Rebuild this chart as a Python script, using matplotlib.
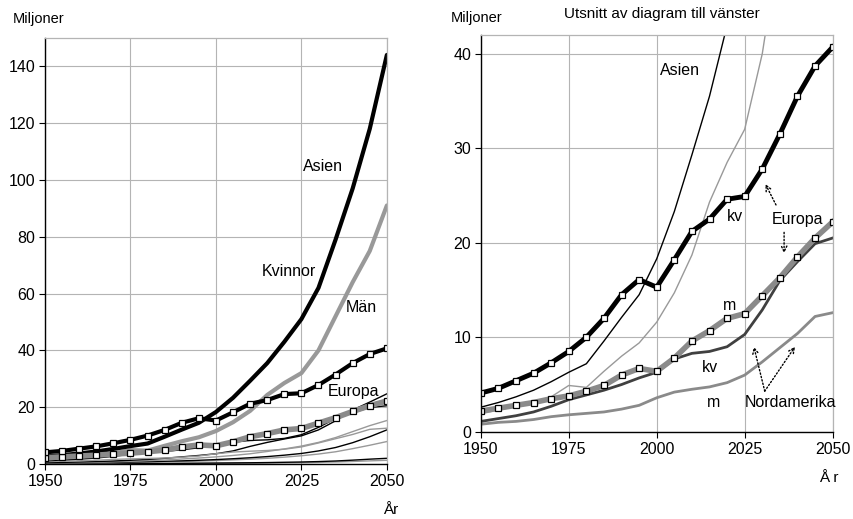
import matplotlib
matplotlib.use("Agg")
import matplotlib.pyplot as plt

plt.rcParams['font.family'] = ['Liberation Sans', 'DejaVu Sans']

years = list(range(1950, 2051, 5))

asia_kv = [2.6, 3.1, 3.7, 4.4, 5.3, 6.3, 7.2, 9.6, 12.1, 14.5, 18.3, 23.3, 29.3, 35.5, 43.0, 51.0, 62.0, 79.0, 97.0, 118.0, 144.0]
asia_m = [1.9, 2.3, 2.7, 3.1, 3.7, 4.9, 4.7, 6.4, 8.0, 9.4, 11.6, 14.7, 18.7, 24.3, 28.5, 32.0, 40.0, 52.0, 64.0, 75.0, 91.0]
europa_kv = [4.1, 4.6, 5.4, 6.2, 7.3, 8.5, 10.0, 12.0, 14.5, 16.1, 15.3, 18.2, 21.2, 22.5, 24.6, 24.9, 27.8, 31.5, 35.5, 38.7, 40.7]
europa_m = [2.2, 2.5, 2.8, 3.1, 3.5, 3.8, 4.3, 4.9, 6.0, 6.7, 6.4, 7.8, 9.6, 10.7, 12.0, 12.5, 14.4, 16.3, 18.5, 20.5, 22.2]
nordam_kv = [1.1, 1.4, 1.7, 2.1, 2.7, 3.4, 3.9, 4.4, 5.0, 5.7, 6.3, 7.7, 8.3, 8.5, 9.0, 10.3, 12.9, 16.0, 18.0, 19.9, 20.5]
nordam_m = [0.8, 1.0, 1.1, 1.3, 1.6, 1.8, 1.95, 2.1, 2.4, 2.8, 3.6, 4.2, 4.5, 4.75, 5.2, 6.0, 7.4, 8.9, 10.4, 12.2, 12.6]
latam_kv = [0.45, 0.55, 0.7, 0.85, 1.05, 1.3, 1.6, 2.0, 2.5, 3.0, 3.6, 4.6, 6.2, 7.6, 8.8, 9.9, 12.0, 15.2, 19.0, 21.8, 24.7]
latam_m = [0.35, 0.42, 0.5, 0.6, 0.75, 0.95, 1.15, 1.4, 1.75, 2.1, 2.5, 3.0, 3.6, 4.4, 5.3, 6.3, 7.6, 9.3, 11.4, 13.5, 15.3]
afrika_kv = [0.35, 0.4, 0.45, 0.5, 0.6, 0.7, 0.8, 0.95, 1.1, 1.3, 1.55, 1.85, 2.2, 2.6, 3.1, 3.7, 4.6, 5.8, 7.5, 9.6, 12.0]
afrika_m = [0.28, 0.3, 0.35, 0.4, 0.45, 0.55, 0.62, 0.72, 0.85, 1.0, 1.2, 1.45, 1.7, 2.0, 2.4, 2.9, 3.5, 4.3, 5.4, 6.6, 7.9]
oceanien_kv = [0.07, 0.08, 0.09, 0.1, 0.12, 0.14, 0.17, 0.2, 0.24, 0.28, 0.33, 0.38, 0.43, 0.5, 0.6, 0.7, 0.85, 1.05, 1.35, 1.7, 2.0]
oceanien_m = [0.05, 0.05, 0.06, 0.07, 0.08, 0.09, 0.11, 0.13, 0.15, 0.18, 0.21, 0.24, 0.28, 0.33, 0.39, 0.46, 0.56, 0.7, 0.88, 1.1, 1.3]

xticks = [1950, 1975, 2000, 2025, 2050]
left_yticks = [0, 20, 40, 60, 80, 100, 120, 140]
right_yticks = [0, 10, 20, 30, 40]

BLACK = '#000000'
GRAY = '#999999'
MGRAY = '#8a8a8a'
DGRAY = '#404040'
GRID = '#b4b4b4'

TICK_FS = 11.5
ANN_FS = 11.5

fig = plt.figure(figsize=(8.54, 5.19), dpi=100)
axL = fig.add_axes([0.0527, 0.106, 0.4003, 0.821])
axR = fig.add_axes([0.563, 0.168, 0.412, 0.765])


def style(ax, ylim, yticks):
    ax.set_xlim(1950, 2050)
    ax.set_ylim(*ylim)
    ax.set_xticks(xticks)
    ax.set_yticks(yticks)
    ax.grid(True, color=GRID, lw=0.8)
    ax.set_axisbelow(True)
    for s in ['top', 'right']:
        ax.spines[s].set_color(GRID)
        ax.spines[s].set_linewidth(0.9)
    for s in ['left', 'bottom']:
        ax.spines[s].set_color('black')
        ax.spines[s].set_linewidth(1.0)
    ax.tick_params(axis='both', direction='out', length=4, width=0.8,
                   labelsize=TICK_FS, colors='black', pad=3)


mk = dict(marker='s', markersize=4.5, markerfacecolor='white',
          markeredgecolor='black', markeredgewidth=0.9)

# ---------- Left chart ----------
style(axL, (0, 150), left_yticks)
axL.plot(years, oceanien_m, color=GRAY, lw=1.0)
axL.plot(years, oceanien_kv, color=BLACK, lw=1.0)
axL.plot(years, afrika_m, color=GRAY, lw=1.0)
axL.plot(years, afrika_kv, color=BLACK, lw=1.0)
axL.plot(years, latam_m, color=GRAY, lw=1.0)
axL.plot(years, latam_kv, color=BLACK, lw=1.0)
axL.plot(years, nordam_m, color=GRAY, lw=1.0)
axL.plot(years, nordam_kv, color=BLACK, lw=1.0)
axL.plot(years, asia_m, color=GRAY, lw=3.0, solid_capstyle='round')
axL.plot(years, asia_kv, color=BLACK, lw=3.0, solid_capstyle='round')
axL.plot(years, europa_m, color=MGRAY, lw=4.0, **mk)
axL.plot(years, europa_kv, color=BLACK, lw=3.0, **mk)

axL.text(2025.4, 104.7, 'Asien', fontsize=ANN_FS, ha='left', va='center')
axL.text(2013.3, 67.7, 'Kvinnor', fontsize=ANN_FS, ha='left', va='center')
axL.text(2038.0, 55.0, 'Män', fontsize=ANN_FS, ha='left', va='center')
axL.text(2032.6, 25.5, 'Europa', fontsize=ANN_FS, ha='left', va='center')

fig.text(13 / 854, 1 - 19 / 519, 'Miljoner', fontsize=10.5, ha='left', va='center')
fig.text(391 / 854, 1 - 510 / 519, 'År', fontsize=11, ha='center', va='center')

# ---------- Right chart ----------
style(axR, (0, 42), right_yticks)
axR.plot(years, asia_m, color=GRAY, lw=1.0)
axR.plot(years, asia_kv, color=BLACK, lw=1.0)
axR.plot(years, nordam_m, color=MGRAY, lw=2.0)
axR.plot(years, nordam_kv, color=DGRAY, lw=2.0)
axR.plot(years, europa_m, color=MGRAY, lw=4.0, **mk)
axR.plot(years, europa_kv, color=BLACK, lw=3.5, **mk)

axR.text(2001.0, 38.2, 'Asien', fontsize=ANN_FS, ha='left', va='center')
axR.text(2020.0, 22.8, 'kv', fontsize=ANN_FS, ha='left', va='center')
axR.text(2032.6, 22.5, 'Europa', fontsize=ANN_FS, ha='left', va='center')
axR.text(2018.7, 13.4, 'm', fontsize=ANN_FS, ha='left', va='center')
axR.text(2012.7, 6.8, 'kv', fontsize=ANN_FS, ha='left', va='center')
axR.text(2014.2, 3.1, 'm', fontsize=ANN_FS, ha='left', va='center')
axR.text(2025.0, 3.1, 'Nordamerika', fontsize=ANN_FS, ha='left', va='center')

arr = dict(arrowstyle='->', linestyle=(0, (1, 1.5)), lw=1.0, color='black',
           shrinkA=0, shrinkB=0)
axR.annotate('', xy=(2030.9, 26.2), xytext=(2033.9, 24.0), arrowprops=arr)
axR.annotate('', xy=(2036.2, 18.9), xytext=(2036.2, 21.1), arrowprops=arr)
axR.annotate('', xy=(2027.6, 9.0), xytext=(2030.7, 4.3), arrowprops=arr)
axR.annotate('', xy=(2039.3, 9.0), xytext=(2030.7, 4.3), arrowprops=arr)

fig.text(451 / 854, 1 - 18 / 519, 'Miljoner', fontsize=10.5, ha='left', va='center')
fig.text(662 / 854, 1 - 14 / 519, 'Utsnitt av diagram till vänster', fontsize=11,
         ha='center', va='center')
fig.text(829 / 854, 1 - 478 / 519, 'Å r', fontsize=11, ha='center', va='center')

fig.savefig('out.png', dpi=100)
